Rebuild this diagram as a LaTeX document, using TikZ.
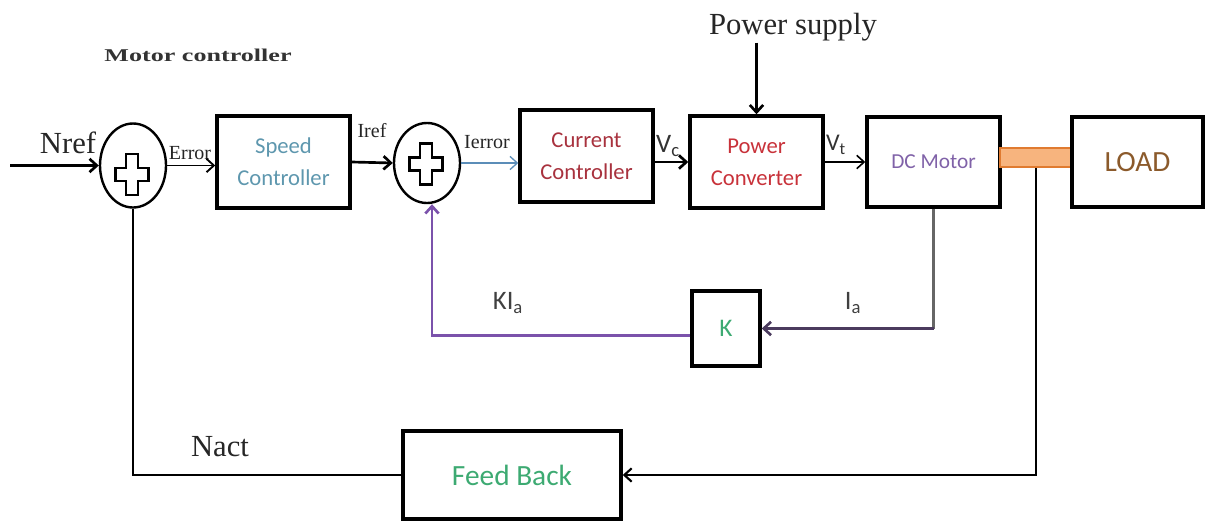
\documentclass[tikz,border=0pt]{standalone}
\usepackage{fontspec}
\setmainfont{Liberation Serif}
\newfontfamily\calib{Carlito}
\newfontfamily\widefont[FakeStretch=1.45]{Liberation Serif}
\usetikzlibrary{positioning, arrows.meta, shapes.geometric, calc}
\definecolor{SpeedT}{HTML}{5E97AE}
\definecolor{CurT}{HTML}{A8323E}
\definecolor{PowT}{HTML}{C8323A}
\definecolor{MotT}{HTML}{8062A8}
\definecolor{LoadT}{HTML}{8B5A2B}
\definecolor{GreenT}{HTML}{3DAA72}
\definecolor{ErrLine}{HTML}{5B8DB8}
\definecolor{KLine}{HTML}{7B52AB}
\definecolor{IaLine}{HTML}{4B3B5E}
\definecolor{ShaftF}{HTML}{F7B47E}
\definecolor{ShaftD}{HTML}{E07B30}
\tikzset{
  blk/.style={draw, line width=2.6pt, minimum width=99.75pt, minimum height=69pt, align=center, inner sep=2pt, font=\calib\fontsize{17}{24}\selectfont},
  sumj/.style={draw, ellipse, line width=1.8pt, minimum width=49.5pt, minimum height=63pt, inner sep=0pt},
  arr/.style={-{Straight Barb[length=5.5pt,width=10pt]}, line width=2pt},
  thinarr/.style={-{Straight Barb[length=5.5pt,width=10pt]}, line width=1pt},
  lbl/.style={inner sep=1pt, text=black!85, font=\fontsize{15}{17}\selectfont},
  big/.style={inner sep=1pt, text=black!85, font=\fontsize{23}{26}\selectfont},
  sub/.style={inner sep=1pt, text=black!80, font=\calib\fontsize{20}{22}\selectfont}
}
\begin{document}
\begin{tikzpicture}[x=0.75pt, y=-0.75pt]
  \useasboundingbox (0,0) rectangle (1206,521);
  % forward path
  \node[inner sep=1pt, text=black!80, font=\widefont\bfseries\fontsize{13.5}{15}\selectfont] (title) at (198,55) {Motor controller};
  \coordinate (nrefin) at (10,165.5);
  \node[big] (nrefl) at (68,143) {Nref};
  \node[sumj] (s1) at (133,165.5) {};
  \node[lbl] (errl) at (190,153) {Error};
  \node[blk, text=SpeedT] (speed) at (283.5,162) {Speed\\Controller};
  \node[lbl] (irefl) at (372,131) {Iref};
  \node[sumj, minimum height=60pt] (s2) at (427,163) {};
  \node[lbl] (ierrl) at (487,142) {Ierror};
  \node[blk, text=CurT] (cur) at (586.5,156) {Current\\Controller};
  \node[sub] (vcl) at (668,146) {V\textsubscript{c}};
  \node[blk, text=PowT] (pow) at (756.5,162) {Power\\Converter};
  \node[big] (supply) at (793,27) {Power supply};
  \node[sub, font=\calib\fontsize{18}{20}\selectfont] (vtl) at (836,145) {V\textsubscript{t}};
  \node[blk, minimum height=67.5pt, text=MotT, font=\calib\fontsize{16}{20}\selectfont] (motor) at (933.5,162) {DC Motor};
  \node[draw=ShaftD, fill=ShaftF, line width=1.8pt, minimum width=54pt, minimum height=14.25pt, inner sep=0pt] (shaft) at (1036,157.5) {};
  \node[blk, minimum width=98.25pt, minimum height=67.5pt, text=LoadT, font=\calib\fontsize{22}{24}\selectfont] (load) at (1137.5,162) {LOAD};
  % feedback blocks
  \node[blk, minimum width=51pt, minimum height=56.25pt, text=GreenT, font=\calib\fontsize{19}{22}\selectfont] (k) at (726,328.5) {K};
  \node[sub, text=black!75] (kial) at (508,303) {KI\textsubscript{a}};
  \node[sub, text=black!75] (ial) at (853,303) {I\textsubscript{a}};
  \node[blk, minimum width=163.5pt, minimum height=66pt, text=GreenT, font=\calib\fontsize{22}{24}\selectfont] (fb) at (512,475) {Feed Back};
  \node[big] (nactl) at (220,447) {Nact};
  \coordinate (iacorner) at (motor.south |- k.east);
  % plus signs
  \foreach \n/\dy in {s1/9, s2/1}
    \draw[line width=1.8pt, shift={($(\n.center)+(-1,\dy)$)}]
      (-6,-20.5) -- (6,-20.5) -- (6,-6.5) -- (16.5,-6.5) -- (16.5,6.5) -- (6,6.5) -- (6,20.5)
      -- (-6,20.5) -- (-6,6.5) -- (-16.5,6.5) -- (-16.5,-6.5) -- (-6,-6.5) -- cycle;
  % connectors
  \draw[arr] (nrefin) -- (s1.west);
  \draw[arr, line width=1.4pt] (s1.east) -- (s1.east -| speed.west);
  \draw[arr] (speed.east) -- (s2.west);
  \draw[thinarr, ErrLine] (s2.east) -- (s2.east -| cur.west);
  \draw[arr] (cur.east |- pow.west) -- (pow.west);
  \draw[arr] (supply.south -| pow.north) -- (pow.north);
  \draw[thinarr, line width=1.2pt] (pow.east) -- (motor.west);
  \draw[arr, line width=1.6pt] (shaft.south) |- (fb.east);
  \draw[black!60, line width=2pt] (motor.south) -- (iacorner);
  \draw[arr, IaLine] (iacorner) -- (k.east);
  \draw[arr, KLine] ([yshift=-5pt]k.west) -| ([xshift=3.75pt]s2.south);
  \draw[line width=2pt] (fb.west) -| (s1.south);
\end{tikzpicture}
\end{document}
